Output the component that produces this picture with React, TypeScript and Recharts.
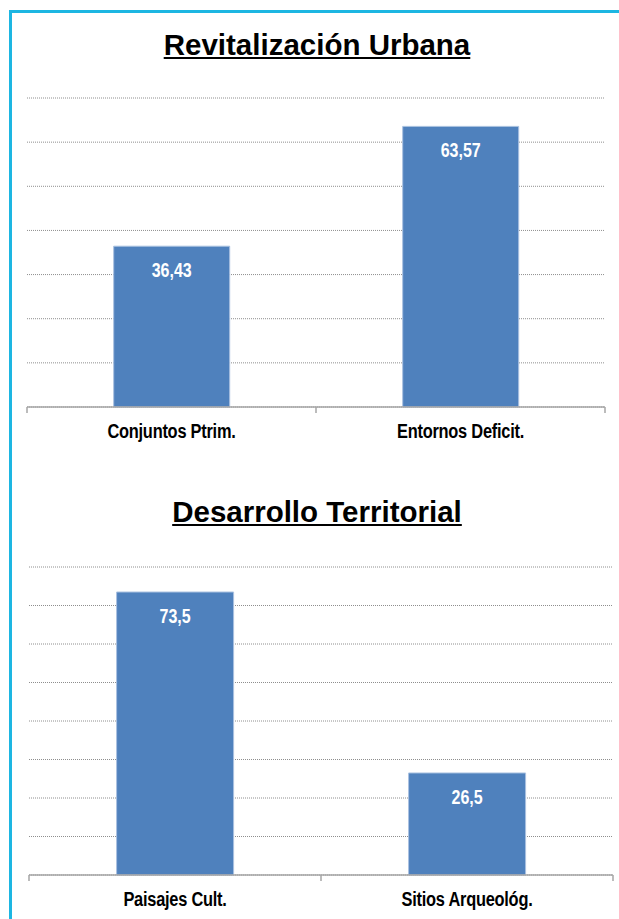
import React from 'react';
import { BarChart, Bar, XAxis, YAxis, CartesianGrid, LabelList } from 'recharts';

const urbanCategories = ['Conjuntos Ptrim.', 'Entornos Deficit.'];
const urbanValues = [36.43, 63.57];
const urbanTicks = [0, 10, 20, 30, 40, 50, 60, 70];

const territorialCategories = ['Paisajes Cult.', 'Sitios Arqueológ.'];
const territorialValues = [73.5, 26.5];
const territorialTicks = [0, 10, 20, 30, 40, 50, 60, 70, 80];

const BAR_COLOR = '#4F81BD';
const AXIS_COLOR = '#A6A6A6';
const GRID_COLOR = '#8E8E8E';
const LABEL_FONT = "'Liberation Sans', Arial, sans-serif";
const TITLE_FONT = "'Liberation Sans', Arial, sans-serif";
const CONDENSE = 0.8;

const makeTick = (lastValue: string) => (props: any) => {
  const { x, y, payload } = props;
  const off = payload && typeof payload.offset === 'number' ? payload.offset : 0;
  return (
    <g>
      <line x1={x - off} x2={x - off} y1={y} y2={y + 6} stroke={AXIS_COLOR} strokeWidth={1.5} />
      {payload.value === lastValue && (
        <line x1={x + off} x2={x + off} y1={y} y2={y + 6} stroke={AXIS_COLOR} strokeWidth={1.5} />
      )}
      <text
        transform={`translate(${x},${y + 31}) scale(${CONDENSE},1)`}
        x={0}
        y={0}
        textAnchor="middle"
        fill="#000"
        fontFamily={LABEL_FONT}
        fontWeight="bold"
        fontSize={20.5}
        letterSpacing={-0.3}
      >
        {payload.value}
      </text>
    </g>
  );
};

const fmt = (v: any) => String(v).replace('.', ',');

const renderValueLabel = (props: any) => {
  const { x, y, width, value } = props;
  const cx = Number(x) + Number(width) / 2;
  const by = Number(y) + 31;
  return (
    <text
      transform={`translate(${cx},${by}) scale(${CONDENSE},1)`}
      x={0}
      y={0}
      textAnchor="middle"
      fill="#FFFFFF"
      fontFamily={LABEL_FONT}
      fontWeight="bold"
      fontSize={20}
    >
      {fmt(value)}
    </text>
  );
};

type PanelProps = {
  title: string;
  titleBaseline: number;
  top: number;
  height: number;
  categories: string[];
  values: number[];
  ticks: number[];
  margin: { top: number; right: number; bottom: number; left: number };
};

const Panel = ({ title, titleBaseline, top, height, categories, values, ticks, margin }: PanelProps) => {
  const data = categories.map((c, i) => ({ name: c, value: values[i] }));
  return (
    <div style={{ position: 'absolute', left: 0, top, width: 619, height }}>
      <div
        style={{
          position: 'absolute',
          left: 17,
          width: 600,
          top: titleBaseline - 25,
          textAlign: 'center',
          fontFamily: TITLE_FONT,
          fontWeight: 'bold',
          fontSize: 29.5,
          lineHeight: '29px',
          textDecoration: 'underline',
          color: '#000',
        }}
      >
        {title}
      </div>
      <BarChart width={619} height={height} data={data} margin={margin} barCategoryGap="30%">
        <CartesianGrid vertical={false} stroke={GRID_COLOR} strokeDasharray="1 1" />
        <YAxis hide domain={[0, ticks[ticks.length - 1]]} ticks={ticks} />
        <XAxis
          dataKey="name"
          height={40}
          tickLine={false}
          tickSize={0}
          tickMargin={0}
          axisLine={{ stroke: AXIS_COLOR, strokeWidth: 1.5 }}
          tick={makeTick(categories[categories.length - 1])}
          interval={0}
        />
        <Bar dataKey="value" fill={BAR_COLOR} stroke="#A9C1E0" strokeWidth={1} isAnimationActive={false}>
          <LabelList dataKey="value" content={renderValueLabel} />
        </Bar>
      </BarChart>
    </div>
  );
};

export default function App() {
  return (
    <div style={{ position: 'absolute', left: 0, top: 0, width: 619, height: 919, background: '#fff', overflow: 'hidden' }}>
      <div
        style={{
          position: 'absolute',
          left: 9,
          top: 10,
          width: 640,
          height: 940,
          borderLeft: '3px solid #1DB6E2',
          borderTop: '3px solid #1DB6E2',
        }}
      />
      <Panel
        title="Revitalización Urbana"
        titleBaseline={55}
        top={0}
        height={460}
        categories={urbanCategories}
        values={urbanValues}
        ticks={urbanTicks}
        margin={{ top: 98, right: 14, bottom: 13, left: 27 }}
      />
      <Panel
        title="Desarrollo Territorial"
        titleBaseline={522 - 460}
        top={460}
        height={459}
        categories={territorialCategories}
        values={territorialValues}
        ticks={territorialTicks}
        margin={{ top: 107, right: 6, bottom: 4, left: 29 }}
      />
    </div>
  );
}
